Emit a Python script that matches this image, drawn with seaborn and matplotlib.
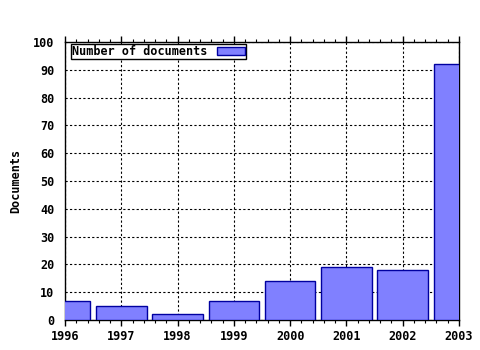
import matplotlib
matplotlib.use("Agg")
import matplotlib.pyplot as plt
import seaborn as sns
import pandas as pd
from matplotlib.ticker import MultipleLocator, AutoMinorLocator, NullLocator

years = ["1996", "1997", "1998", "1999", "2000", "2001", "2002", "2003"]
documents = [7, 5, 2, 7, 14, 19, 18, 92]
series_name = "Number of documents"

df = pd.DataFrame({"year": years, "docs": documents, "series": series_name})

sns.set_style("white")
plt.rcParams["font.family"] = ["DejaVu Sans Mono"]
plt.rcParams["font.weight"] = "bold"
plt.rcParams["text.color"] = "black"
plt.rcParams["axes.labelcolor"] = "black"
plt.rcParams["xtick.color"] = "black"
plt.rcParams["ytick.color"] = "black"

fig = plt.figure(figsize=(4.8, 3.5), dpi=100)
ax = fig.add_axes([65/480, 1-320/350, (459-65)/480, (320-42)/350])

sns.barplot(data=df, x="year", y="docs", hue="series", ax=ax, width=0.9,
            palette=["#8080ff"], edgecolor="#0000a0", linewidth=1.0,
            saturation=1, zorder=3)

ax.set_xlim(0, 7)
ax.set_ylim(0, 100)
ax.yaxis.set_major_locator(MultipleLocator(10))
ax.xaxis.set_minor_locator(AutoMinorLocator(5))
ax.yaxis.set_minor_locator(NullLocator())
ax.grid(True, which="major", color="black", linestyle=(0, (2, 2)), linewidth=0.8, zorder=0)
ax.set_axisbelow(True)
for s in ax.spines.values():
    s.set_visible(True)
    s.set_color("black")
    s.set_linewidth(1.0)
ax.tick_params(which="major", length=4, width=1, color="black", labelcolor="black",
               labelsize=8.5, right=False, direction="out")
ax.tick_params(axis="x", which="minor", length=2, width=0.8, color="black", top=True, bottom=True)
ax.tick_params(axis="x", which="major", top=True, bottom=True)
for lab in ax.get_xticklabels() + ax.get_yticklabels():
    lab.set_fontweight("bold")
ax.set_xlabel("")
ax.set_ylabel("Documents", fontsize=8.5, fontweight="bold", labelpad=8, color="black")

leg = ax.legend(loc="upper left", markerfirst=False, fancybox=False, frameon=True,
                edgecolor="black", framealpha=1, fontsize=8.5, borderpad=0.1,
                handlelength=2.4, handleheight=0.6, borderaxespad=0.1,
                handletextpad=0.8, bbox_to_anchor=(0.012, 0.997))
leg.get_frame().set_linewidth(1.0)
for t in leg.get_texts():
    t.set_fontweight("bold")
    t.set_color("black")

fig.savefig("out.png", dpi=100)
